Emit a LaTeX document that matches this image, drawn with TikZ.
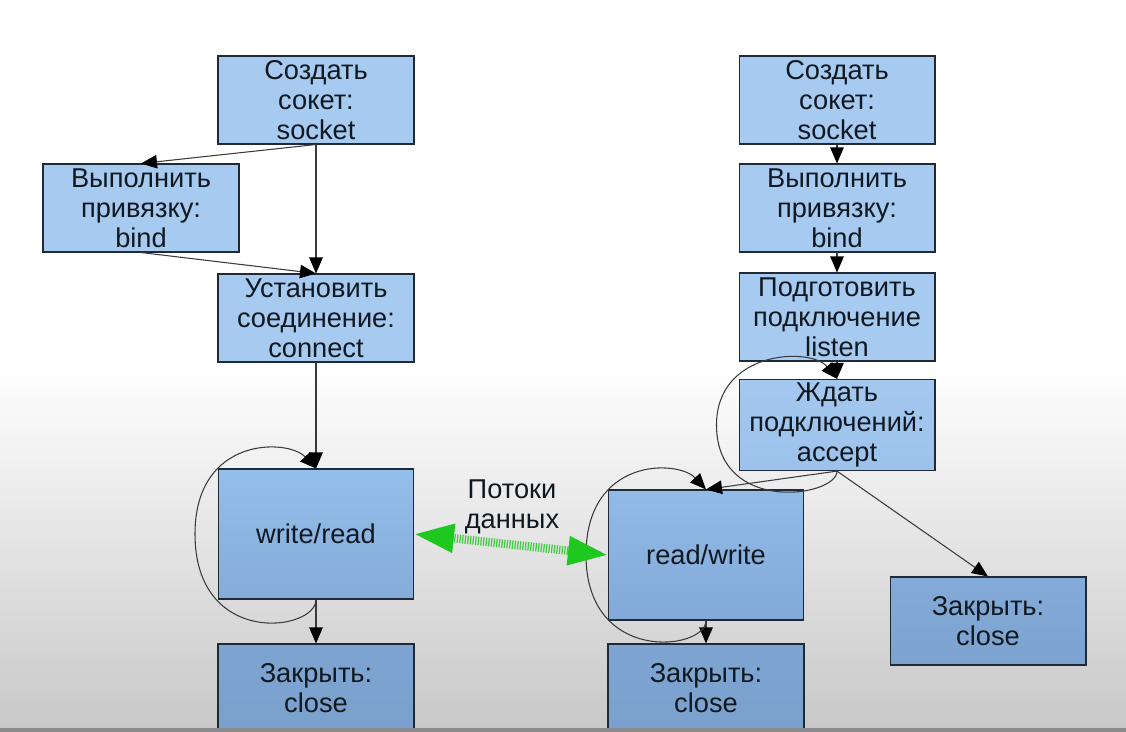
\documentclass[tikz,border=0pt]{standalone}
\usepackage{fontspec}
\setmainfont{Liberation Sans}
\usetikzlibrary{arrows.meta, calc}
\definecolor{cbox}{HTML}{A6CAF0}
\definecolor{cedge}{HTML}{1F2A38}
\definecolor{cline}{HTML}{3A3A3A}
\definecolor{ctext}{HTML}{101820}
\definecolor{cgreen}{HTML}{1EC81E}
\definecolor{cgreenl}{HTML}{3FCC3F}
\definecolor{cfloor}{HTML}{C8C8C8}
\definecolor{cbar}{HTML}{8C8C8C}
% box tints, lighter to darker down the page
\definecolor{tintA}{HTML}{A4C8EF}
\definecolor{tintB}{HTML}{9CC2EC}
\definecolor{tintC}{HTML}{94BEEB}
\definecolor{tintD}{HTML}{86ACD9}
\definecolor{tintE}{HTML}{92BBE8}
\definecolor{tintF}{HTML}{82A9D7}
\definecolor{tintG}{HTML}{84ABD8}
\definecolor{tintH}{HTML}{7CA3D0}
\definecolor{tintI}{HTML}{7EA5D2}
\definecolor{tintJ}{HTML}{7AA0CC}
\tikzset{
  every picture/.style={x=0.02cm, y=-0.02cm, font=\fontsize{15.5}{17}\selectfont, line width=0.6pt},
  box/.style={draw=cedge, fill=cbox, text=ctext, align=center, inner sep=2pt, minimum width=3.92cm, minimum height=1.76cm},
  bigbox/.style={box, minimum width=3.9cm, minimum height=2.6cm},
  tint/.style 2 args={shade, top color=#1, bottom color=#2},
  arrow/.style={-{Triangle[length=0.32cm, width=0.27cm, color=black]}, draw=cline, line width=0.6pt},
  flow/.style={{Triangle[length=0.8cm, width=0.54cm, color=cgreen]}-{Triangle[length=0.8cm, width=0.54cm, color=cgreen]}, draw=cgreenl, line width=0.17cm, dash pattern=on 0.7pt off 0.8pt},
  note/.style={text=ctext, align=center},
}

\begin{document}
\begin{tikzpicture}
  \useasboundingbox (0,0) rectangle (1126,732);
  % page: white on top, grey towards the bottom
  \fill[white] (0,0) rectangle (1126,732);
  \shade[top color=white, bottom color=cfloor] (0,365) rectangle (1126,728);

  % client
  \node[box] (a1) at (316,100) {Создать\\сокет:\\socket};
  \node[box] (a2) at (141,208) {Выполнить\\привязку:\\bind};
  \node[box] (a3) at (316,318) {Установить\\соединение:\\connect};
  \node[bigbox, tint={tintC}{tintD}] (a4) at (316,534) {write/read};
  \node[box, tint={tintI}{tintJ}] (a5) at (316,688) {Закрыть:\\close};
  \draw[arrow] (a1.south) -- (a2.north);
  \draw[arrow] (a1) -- (a3);
  \draw[arrow] (a2.south) -- (a3.north);
  \draw[arrow] (a3) -- (a4);
  \draw[arrow] (a4) -- (a5);
  \draw[arrow] (a4.south) .. controls +(0,32) and +(0,114) .. ($(a4.west)+(-23,0)$)
    .. controls +(0,-98) and +(-28,-30) .. (a4.north);

  % server
  \foreach \i/\y/\job in {
      1/100/Создать\\сокет:\\socket,
      2/208/Выполнить\\привязку:\\bind,
      3/317/Подготовить\\подключение\\listen} {
    \node[box] (b\i) at (837,\y) {\job};
  }
  \node[box, tint={tintA}{tintB}] (b4) at (837,425) {Ждать\\подключений:\\accept};
  \node[bigbox, tint={tintE}{tintF}] (b5) at (706,555) {read/write};
  \node[box, tint={tintI}{tintJ}] (b6) at (706,688) {Закрыть:\\close};
  \node[box, tint={tintG}{tintH}] (b7) at (988,621) {Закрыть:\\close};
  \foreach \i [evaluate=\i as \j using int(\i+1)] in {1,2,3} { \draw[arrow] (b\i) -- (b\j); }
  \draw[arrow] (b4.south) -- (b5.north);
  \draw[arrow] (b4.south) -- (b7.north);
  \draw[arrow] (b5) -- (b6);
  \draw[arrow] (b4.south) .. controls +(0,26) and +(0,90) .. ($(b4.west)+(-22,0)$)
    .. controls +(0,-75) and +(-26,-32) .. (b4.north);
  \draw[arrow] (b5.south) .. controls +(0,30) and +(0,110) .. ($(b5.west)+(-22,0)$)
    .. controls +(0,-98) and +(-28,-30) .. (b5.north);

  % data streams between the two sides
  \draw[flow] (a4.east) -- (b5.west);
  \node[note] (streams) at (512,507) {Потоки\\данных};

  \fill[cbar] (0,728) rectangle (1126,732);
\end{tikzpicture}
\end{document}
